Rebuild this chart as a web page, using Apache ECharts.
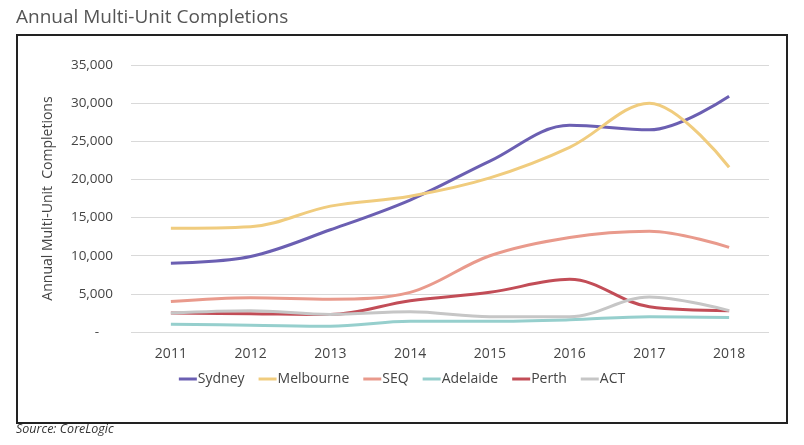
<!DOCTYPE html>
<html><head><meta charset="utf-8">
<script src="https://cdn.jsdelivr.net/npm/echarts@6/dist/echarts.min.js"></script>
<style>html,body{margin:0;padding:0;background:#fff}#c{width:804px;height:445px}</style>
</head><body><div id="c"></div>
<script>
const years = ['2011','2012','2013','2014','2015','2016','2017','2018'];
const sydney    = [9000, 9900, 13400, 17300, 22400, 27100, 26500, 30900];
const melbourne = [13600, 13800, 16500, 17800, 20200, 24200, 30000, 21600];
const seq       = [4000, 4500, 4300, 5200, 10000, 12400, 13200, 11100];
const adelaide  = [1000, 900, 750, 1400, 1400, 1600, 2000, 1900];
const perth     = [2500, 2400, 2300, 4100, 5200, 6900, 3300, 2800];
const act       = [2500, 2800, 2300, 2650, 2000, 2000, 4600, 2800];
const yTicks = [0, 5000, 10000, 15000, 20000, 25000, 30000, 35000];

const names = ['Sydney','Melbourne','SEQ','Adelaide','Perth','ACT'];
const datas = [sydney, melbourne, seq, adelaide, perth, act];
const colors = ['#6B5FB2','#F0CC7E','#E99A8C','#96CFCD','#C24D57','#C6C6C6'];

const chart = echarts.init(document.getElementById('c'));
chart.setOption({
  animation: false,
  color: colors,
  title: {
    text: 'Annual Multi-Unit Completions', left: 11, top: 3,
    textStyle: {fontFamily: 'Open Sans', fontWeight: 'normal', fontSize: 19, color: '#555'}
  },
  graphic: [
    {type: 'rect', shape: {x: 17, y: 35, width: 770, height: 388},
     style: {fill: 'none', stroke: '#222', lineWidth: 2}, z: -1},
    {type: 'text', left: 16, top: 423,
     style: {text: 'Source: CoreLogic', fontFamily: 'Open Sans', fontStyle: 'italic', fontSize: 12.5, fill: '#333'}}
  ],
  grid: {left: 131, right: 35, top: 65, bottom: 113},
  legend: {
    bottom: 54, left: 'center', itemWidth: 18, itemHeight: 3, itemGap: 14,
    icon: 'rect',
    textStyle: {fontFamily: 'Open Sans', fontSize: 14, color: '#444', padding: [0,0,0,-4]},
    data: names
  },
  xAxis: {
    type: 'category', data: years, boundaryGap: true,
    axisLine: {show: false}, axisTick: {show: false},
    axisLabel: {fontFamily: 'Open Sans', fontSize: 14, color: '#444', margin: 15}
  },
  yAxis: {
    type: 'value', min: 0, max: 35000, interval: 5000,
    name: 'Annual Multi-Unit  Completions', nameLocation: 'middle', nameGap: 76,
    nameTextStyle: {fontFamily: 'Open Sans', fontSize: 14, color: '#444'},
    axisLine: {show: false}, axisTick: {show: false},
    splitLine: {lineStyle: {color: '#D9D9D9', width: 1}},
    axisLabel: {
      fontFamily: 'Open Sans', fontSize: 13.5, color: '#444', margin: 18,
      formatter: v => v === 0 ? '-    ' : v.toLocaleString('en-US')
    }
  },
  series: names.map((n, i) => ({
    name: n, type: 'line', data: datas[i], smooth: 0.35, symbol: 'none',
    lineStyle: {width: 3, color: colors[i]}
  }))
});
</script></body></html>
